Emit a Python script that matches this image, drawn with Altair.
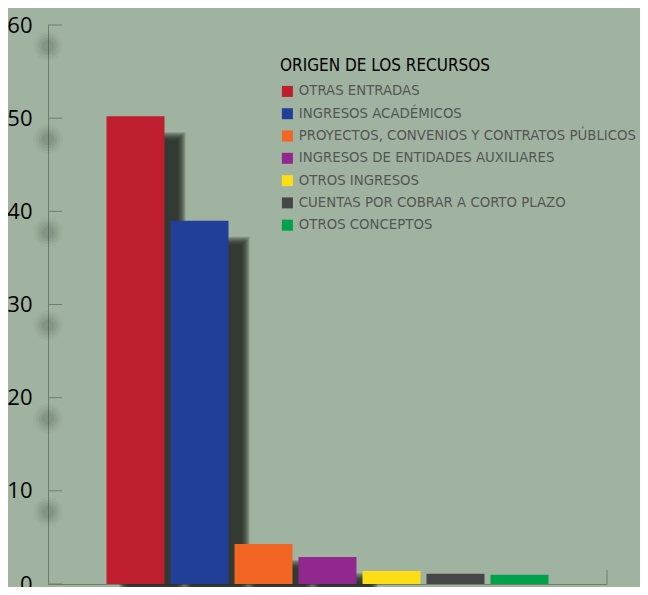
import altair as alt
import pandas as pd

categories = [
    "OTRAS ENTRADAS",
    "INGRESOS ACADÉMICOS",
    "PROYECTOS, CONVENIOS Y CONTRATOS PÚBLICOS",
    "INGRESOS DE ENTIDADES AUXILIARES",
    "OTROS INGRESOS",
    "CUENTAS POR COBRAR A CORTO PLAZO",
    "OTROS CONCEPTOS",
]
values = [50.2, 39.0, 4.3, 2.9, 1.4, 1.1, 1.0]
colors = ["#BF1E2E", "#213F99", "#F26522", "#92278F", "#FFDD15", "#464648", "#00A14B"]
tick_values = [0, 10, 20, 30, 40, 50, 60]

W, H = 559, 559
BG = "#A0B3A0"
AXIS = "#6E7D6C"
SHADOW = "#252A24"
NARROW = "DejaVu Sans Condensed, Roboto, Liberation Sans, sans-serif"

df = pd.DataFrame({"cat": categories, "val": values})
ticks_df = pd.DataFrame({"t": tick_values})

xscale = alt.Scale(domain=categories, paddingInner=0.094, paddingOuter=0.914)
yscale = alt.Scale(domain=[0, 60], nice=False)

xaxis = alt.Axis(labels=False, ticks=False, title=None, domainColor=AXIS, domainWidth=1, grid=False)
yaxis = alt.Axis(values=tick_values, ticks=False, tickSize=0, labelPadding=16, grid=False,
                 title=None, domainColor=AXIS, domainWidth=1, labelFont="Open Sans",
                 labelFontSize=22, labelColor="#000000")

def XE():
    return alt.X("cat:N", scale=xscale, sort=categories, axis=xaxis)

layers = []
# blurred shadows behind bars (stacked soft layers)
for e in [-4, -3, -2, -1, 0, 1, 2, 3, 4]:
    layers.append(
        alt.Chart(df).mark_bar(color=SHADOW, opacity=0.2, width=58 + 2 * e,
                               xOffset=17, yOffset=20 - e, y2Offset=40, clip=False)
        .encode(x=XE(), y=alt.Y("val:Q", scale=yscale, axis=yaxis))
    )
# soft blobs under y tick labels
for s, op in [(150, 0.07), (330, 0.06), (560, 0.05), (850, 0.04)]:
    layers.append(
        alt.Chart(ticks_df[ticks_df.t > 0]).mark_circle(color=SHADOW, opacity=op, size=s, yOffset=21, clip=False)
        .encode(x=alt.value(0), y=alt.Y("t:Q", scale=yscale, axis=yaxis))
    )

bars = alt.Chart(df).mark_bar().encode(
    x=XE(), y=alt.Y("val:Q", scale=yscale, axis=yaxis),
    color=alt.Color("cat:N", scale=alt.Scale(domain=categories, range=colors),
                    legend=alt.Legend(title="ORIGEN DE LOS RECURSOS", orient="none",
                                      legendX=232, legendY=33, symbolType="square",
                                      symbolSize=121, symbolStrokeWidth=0, symbolOpacity=1,
                                      labelFont=NARROW, labelFontSize=14.8,
                                      labelColor="#555555", labelLimit=500, labelOffset=4,
                                      titleFont=NARROW, titleFontSize=17,
                                      titleFontWeight="normal", titleColor="#000000",
                                      titlePadding=9, rowPadding=6.3, padding=0, titleLimit=500)),
)
layers.append(bars)

tick_rules = alt.Chart(ticks_df).mark_rule(color=AXIS, strokeWidth=1).encode(
    y=alt.Y("t:Q", scale=yscale, axis=yaxis), x=alt.value(0), x2=alt.value(14))
layers.append(tick_rules)

end_tick = alt.Chart(pd.DataFrame({"a": [0]})).mark_rule(color=AXIS, strokeWidth=1).encode(
    x=alt.value(W), y=alt.value(H - 14), y2=alt.value(H))
layers.append(end_tick)

chart = alt.layer(*layers).properties(
    width=W, height=H,
    autosize=alt.AutoSizeParams(type="none"),
    padding={"left": 40, "top": 17, "right": 33, "bottom": 3},
    background=BG,
).configure_view(stroke=None)

chart.save("out.html", embed_options={"renderer": "svg", "actions": False})
